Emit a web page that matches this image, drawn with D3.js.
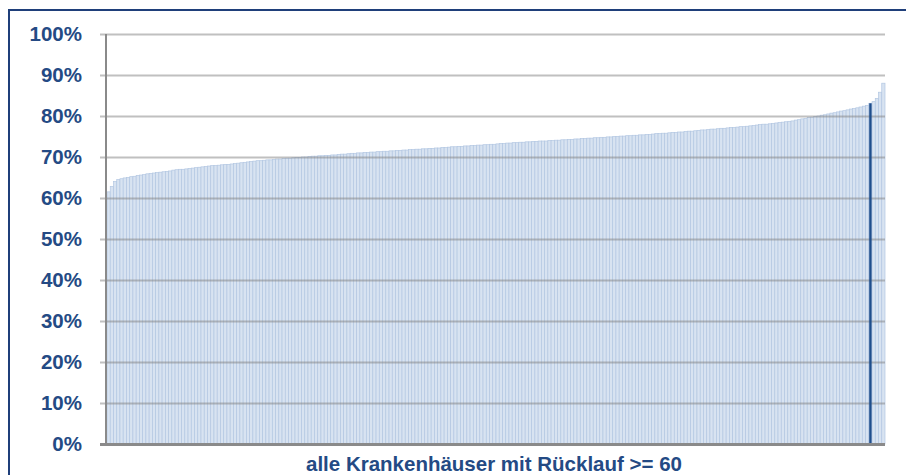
<!DOCTYPE html>
<html><head><meta charset="utf-8">
<script src="https://cdn.jsdelivr.net/npm/d3@7"></script>
<style>html,body{margin:0;padding:0;background:#fff;}svg{display:block;}</style>
</head><body>
<svg id="chart" width="906" height="475"></svg>
<script>
const values = [
61.5,62.8,64.0,64.5,64.7,64.9,65.0,65.2,65.3,65.5,65.6,65.7,65.9,
66.0,66.1,66.2,66.3,66.4,66.5,66.6,66.8,
66.9,67.0,67.0,67.1,67.2,67.3,67.4,67.5,
67.6,67.7,67.8,67.9,67.9,68.0,68.1,68.2,68.2,68.3,68.4,68.5,68.6,68.7,68.8,
68.9,69.0,69.1,69.1,69.2,69.3,69.3,69.4,69.5,69.5,69.6,69.7,69.7,69.8,69.9,69.9,
70.0,70.0,70.1,70.2,70.2,70.3,70.3,70.4,70.4,70.5,70.5,70.6,70.7,70.7,70.8,
70.9,70.9,71.0,71.0,71.1,71.1,71.2,71.2,71.3,71.3,71.4,71.4,71.5,71.5,71.6,71.6,
71.7,71.7,71.8,71.8,71.9,71.9,72.0,72.0,72.1,72.1,72.2,72.2,72.3,72.3,72.4,
72.5,72.5,72.6,72.6,72.7,72.7,72.8,72.8,72.9,72.9,73.0,73.0,73.1,73.1,73.2,
73.3,73.3,73.4,73.4,73.5,73.5,73.6,73.6,73.7,73.7,73.8,73.8,73.9,73.9,73.9,74.0,
74.0,74.1,74.1,74.2,74.2,74.3,74.3,74.4,74.4,74.5,74.5,74.6,74.6,74.7,74.7,
74.8,74.8,74.9,74.9,75.0,75.0,75.1,75.1,75.2,75.2,75.3,75.3,75.4,75.4,75.5,75.5,
75.6,75.7,75.7,75.8,75.8,75.9,76.0,76.0,76.1,76.1,76.2,76.3,76.3,76.4,76.5,
76.6,76.6,76.7,76.8,76.8,76.9,77.0,77.0,77.1,77.2,77.2,77.3,77.4,77.4,77.5,77.6,
77.7,77.8,77.9,78.0,78.0,78.1,78.2,78.3,78.4,78.5,78.6,78.7,
78.8,79.0,79.1,79.3,79.4,79.6,79.7,79.9,
80.0,80.2,80.3,80.5,80.7,80.8,
81.0,81.2,81.3,81.5,81.7,81.8,82.0,82.2,82.4,82.6,
83.1,83.5,84.3,85.8,88.0
];
const highlightIndex = [235];
const yTicks = [0,10,20,30,40,50,60,70,80,90,100];
const xLabel = "alle Krankenhäuser mit Rücklauf >= 60";

const svg = d3.select("#chart");
const pLeft = 107, pRight = 885, pTop = 34, pBottom = 444;
const blue = "#244a84";

// outer frame
svg.append("rect").attr("x",9).attr("y",10).attr("width",910).attr("height",480)
  .attr("fill","none").attr("stroke","#1f3f7a").attr("stroke-width",2);

const idx = values.map((d,i)=>i);
const x = d3.scaleBand().domain(idx).range([pLeft,pRight]).padding(0);
const y = d3.scaleLinear().domain([0,100]).range([pBottom,pTop]);

// bars
svg.append("g").selectAll("rect").data(idx).join("rect")
  .attr("x", i=>x(i)).attr("width", x.bandwidth())
  .attr("y", i=>y(values[i])).attr("height", i=>y(0)-y(values[i]))
  .attr("fill","#d8e3f1").attr("stroke","#b3c7e2").attr("stroke-width",0.7);

// gridlines + labels
const ax = svg.append("g").attr("transform","translate(100,0)")
  .call(d3.axisLeft(y).tickValues(yTicks).tickFormat(d=>d+"%").tickSize(-(pRight-100)).tickPadding(18));
ax.select(".domain").remove();
ax.selectAll(".tick line").attr("stroke","rgba(130,130,130,0.5)").attr("stroke-width",2);
ax.selectAll(".tick text").attr("fill",blue).attr("font-family","'Liberation Sans', Arial, sans-serif")
  .attr("font-weight","bold").attr("font-size","20.5px");

// highlighted bar
svg.append("g").selectAll("rect").data(highlightIndex).join("rect")
  .attr("x", i=>x(i)+x.bandwidth()/2-1.2).attr("width",2.4)
  .attr("y", i=>y(values[i])).attr("height", i=>y(0)-y(values[i]))
  .attr("fill","#1f4e8c");

// axis lines
svg.append("line").attr("x1",106).attr("x2",106).attr("y1",pTop).attr("y2",pBottom)
  .attr("stroke","#8a8a8a").attr("stroke-width",2);
svg.append("line").attr("x1",100).attr("x2",pRight).attr("y1",pBottom+0.5).attr("y2",pBottom+0.5)
  .attr("stroke","#8a8a8a").attr("stroke-width",3);

// x label
svg.append("text").attr("x",(pLeft+pRight)/2-2).attr("y",471).attr("text-anchor","middle")
  .attr("fill",blue).attr("font-family","'Liberation Sans', Arial, sans-serif")
  .attr("font-weight","bold").attr("font-size","20.5px").text(xLabel);
</script>
</body></html>
